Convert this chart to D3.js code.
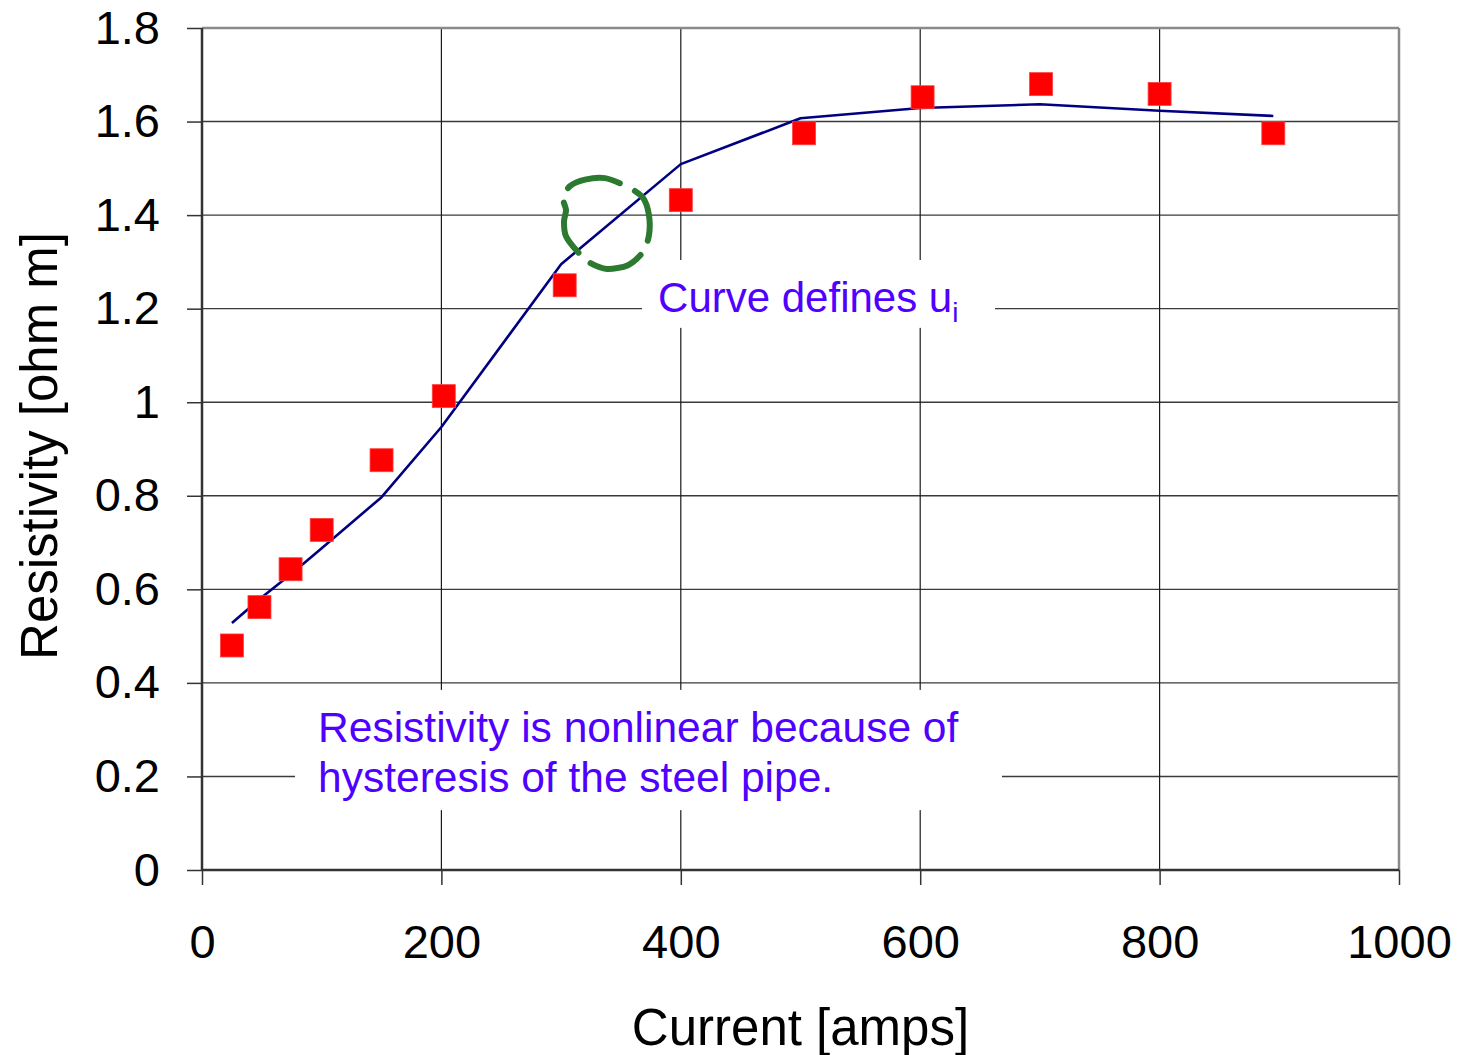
<!DOCTYPE html>
<html>
<head>
<meta charset="utf-8">
<script src="https://cdn.jsdelivr.net/npm/d3@7"></script>
<style>
  html, body { margin: 0; padding: 0; background: #fff; }
  svg { display: block; font-family: "Liberation Sans", Arial, sans-serif; }
</style>
</head>
<body>
<svg id="chart" width="1469" height="1055"></svg>
<script>
// ---- data ----
const pointCurrent = [25, 48, 74, 100, 150, 202, 303, 400, 503, 602, 701, 800, 895];
const pointResistivity = [0.48, 0.562, 0.643, 0.727, 0.876, 1.013, 1.25, 1.432, 1.575, 1.652, 1.68, 1.659, 1.575];

const curveCurrent = [25, 50, 75, 100, 150, 200, 300, 400, 500, 600, 700, 800, 895];
const curveResistivity = [0.528, 0.583, 0.634, 0.688, 0.797, 0.947, 1.295, 1.509, 1.607, 1.629, 1.637, 1.623, 1.612];

const xTicks = [0, 200, 400, 600, 800, 1000];
const yTicks = [0, 0.2, 0.4, 0.6, 0.8, 1, 1.2, 1.4, 1.6, 1.8];

// hand-drawn annotation ring (data units)
const ringCurrent = [336.7, 355.9, 368.4, 373.4, 373.4, 368.4, 355.9, 338.3, 324.1, 314.1, 304.1, 302.4, 304.1, 301.6, 307.4, 320.0];
const ringResistivity = [1.479, 1.460, 1.437, 1.400, 1.357, 1.321, 1.293, 1.285, 1.298, 1.321, 1.355, 1.386, 1.411, 1.437, 1.462, 1.476];

const xTitle = "Current [amps]";
const yTitle = "Resistivity [ohm m]";
const note1 = ["Resistivity is nonlinear because of", "hysteresis of the steel pipe."];
const note2 = "Curve defines u";

// ---- layout ----
const svg = d3.select("#chart");
const x = d3.scaleLinear().domain([0, 1000]).range([202, 1399]);
const y = d3.scaleLinear().domain([0, 1.8]).range([870, 28]);

const fmtY = d => (d === 0 || d === 1) ? String(d) : d.toFixed(1);

// gridlines
const g = svg.append("g");
g.selectAll("line.hg").data(yTicks.filter(d => d > 0 && d < 1.8)).join("line")
  .attr("x1", x(0)).attr("x2", x(1000))
  .attr("y1", d => y(d)).attr("y2", d => y(d))
  .attr("stroke", "#3a3a3a").attr("stroke-width", 1.4);
g.selectAll("line.vg").data(xTicks.filter(d => d > 0 && d < 1000)).join("line")
  .attr("y1", y(0)).attr("y2", y(1.8))
  .attr("x1", d => x(d)).attr("x2", d => x(d))
  .attr("stroke", "#1a1a1a").attr("stroke-width", 1.2);

// plot border top/right
svg.append("line").attr("x1", x(0)).attr("x2", x(1000)).attr("y1", y(1.8)).attr("y2", y(1.8))
  .attr("stroke", "#8a8a8a").attr("stroke-width", 2.5);
svg.append("line").attr("x1", x(1000)).attr("x2", x(1000)).attr("y1", y(1.8)).attr("y2", y(0))
  .attr("stroke", "#8a8a8a").attr("stroke-width", 2.5);

// white boxes behind annotations
svg.append("rect").attr("x", x(77.7)).attr("y", y(0.385))
  .attr("width", x(668.3) - x(77.7)).attr("height", y(0.128) - y(0.385)).attr("fill", "#fff");
svg.append("rect").attr("x", x(367.6)).attr("y", y(1.304))
  .attr("width", x(662.5) - x(367.6)).attr("height", y(1.159) - y(1.304)).attr("fill", "#fff");

// axes
const xAxis = d3.axisBottom(x).tickValues(xTicks).tickSize(15).tickPadding(40).tickFormat(d => String(d));
const yAxis = d3.axisLeft(y).tickValues(yTicks).tickSize(15).tickPadding(27).tickFormat(fmtY);

const gx = svg.append("g").attr("transform", `translate(0,${y(0)})`).call(xAxis);
const gy = svg.append("g").attr("transform", `translate(${x(0)},0)`).call(yAxis);
[gx, gy].forEach(ax => {
  ax.select(".domain").attr("stroke", "#333").attr("stroke-width", 2.5);
  ax.selectAll(".tick line").attr("stroke", "#333").attr("stroke-width", 1.5);
  ax.selectAll(".tick text").attr("fill", "#000").style("font-size", "47px")
    .style("font-family", '"Liberation Sans", Arial, sans-serif');
});
gx.select(".domain").attr("d", `M${x(0)},0H${x(1000)}`);
gy.select(".domain").attr("d", `M0,${y(0)}V${y(1.8)}`);

// fitted curve
const lineGen = d3.line().x(d => x(d[0])).y(d => y(d[1]));
svg.append("path")
  .datum(curveCurrent.map((c, i) => [c, curveResistivity[i]]))
  .attr("d", lineGen).attr("fill", "none")
  .attr("stroke", "#000080").attr("stroke-width", 2.6).attr("stroke-linejoin", "round");

// markers
const ms = 23;
svg.append("g").selectAll("rect").data(pointCurrent.map((c, i) => [c, pointResistivity[i]])).join("rect")
  .attr("x", d => x(d[0]) - ms / 2).attr("y", d => y(d[1]) - ms / 2)
  .attr("width", ms).attr("height", ms)
  .attr("fill", "#ff0000").attr("stroke", "#ff4040").attr("stroke-width", 0.8);

// green hand-drawn ring
const ringGen = d3.line().x(d => x(d[0])).y(d => y(d[1])).curve(d3.curveCardinalClosed.tension(0.2));
svg.append("path")
  .datum(ringCurrent.map((c, i) => [c, ringResistivity[i]]))
  .attr("d", ringGen).attr("fill", "none")
  .attr("stroke", "#2b7a30").attr("stroke-width", 6).attr("stroke-linecap", "round")
  .attr("stroke-dasharray", "55 16").attr("stroke-dashoffset", -8);

// annotations
const noteColor = "#5000ff";
const t1 = svg.append("text").attr("fill", noteColor).style("font-size", "42.5px");
note1.forEach((s, i) => {
  t1.append("tspan").attr("x", x(97)).attr("y", y(i === 0 ? 0.274 : 0.167)).text(s);
});
const t2 = svg.append("text").attr("x", x(381)).attr("y", y(1.193))
  .attr("fill", noteColor).style("font-size", "42px");
t2.append("tspan").text(note2);
t2.append("tspan").attr("dy", 10).style("font-size", "28px").text("i");

// axis titles
svg.append("text").attr("x", (x(0) + x(1000)) / 2).attr("y", 1045)
  .attr("text-anchor", "middle").style("font-size", "51px").attr("fill", "#000").text(xTitle);
svg.append("text").attr("transform", `translate(57,${(y(0) + y(1.8)) / 2 - 3}) rotate(-90)`)
  .attr("text-anchor", "middle").style("font-size", "51px").attr("fill", "#000").text(yTitle);
</script>
</body>
</html>
